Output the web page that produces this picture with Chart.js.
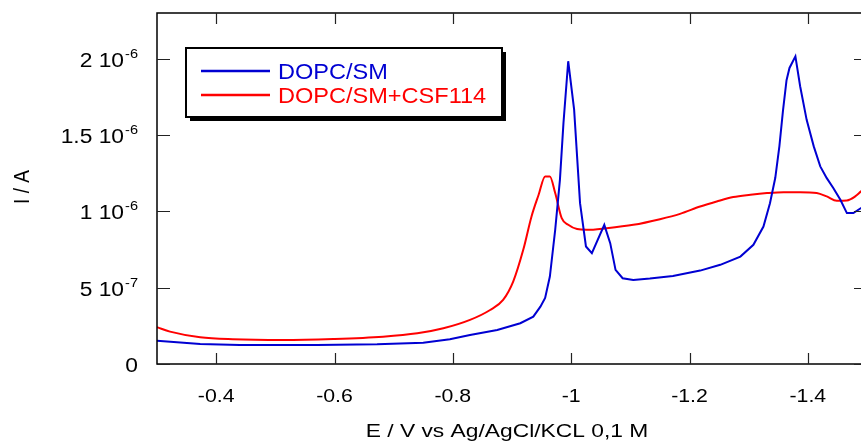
<!DOCTYPE html>
<html>
<head>
<meta charset="utf-8">
<script src="https://cdn.jsdelivr.net/npm/chart.js@4/dist/chart.umd.min.js"></script>
<style>
  html, body { margin: 0; padding: 0; background: #fff; }
  #wrap { width: 861px; height: 442px; overflow: hidden; position: relative; }
  #chart { position: absolute; left: 0; top: 0; }
</style>
</head>
<body>
<div id="wrap"><canvas id="chart" width="880" height="442"></canvas></div>
<script>
'use strict'

// E / V vs Ag/AgCl/KCL 0,1 M  and  I / A
var blueE = [-0.300, -0.373, -0.440, -0.570, -0.672, -0.750, -0.795, -0.829, -0.875, -0.914,
    -0.936, -0.948, -0.956, -0.964, -0.973, -0.981, -0.987, -0.995, -1.005, -1.015,
    -1.025, -1.035, -1.056, -1.066, -1.075, -1.087, -1.105, -1.133, -1.172, -1.218,
    -1.252, -1.286, -1.308, -1.325, -1.336, -1.345, -1.352, -1.358, -1.364, -1.369, -1.379,
    -1.387, -1.398, -1.410, -1.421, -1.432, -1.443, -1.455, -1.466, -1.477, -1.490, -1.500];
var blueI = [1.53e-7, 1.31e-7, 1.25e-7, 1.25e-7, 1.29e-7, 1.40e-7, 1.62e-7, 1.90e-7, 2.23e-7, 2.67e-7,
    3.10e-7, 3.76e-7, 4.33e-7, 5.73e-7, 8.79e-7, 12.07e-7, 15.8e-7, 19.84e-7, 16.67e-7, 10.54e-7,
    7.70e-7, 7.26e-7, 9.12e-7, 7.92e-7, 6.17e-7, 5.62e-7, 5.51e-7, 5.60e-7, 5.77e-7, 6.12e-7,
    6.50e-7, 7.04e-7, 7.81e-7, 9.01e-7, 10.54e-7, 12.2e-7, 14.3e-7, 16.6e-7, 18.6e-7, 19.4e-7, 20.16e-7,
    18.2e-7, 16.0e-7, 14.26e-7, 12.95e-7, 12.18e-7, 11.53e-7, 10.76e-7, 9.89e-7, 9.89e-7, 10.22e-7, 10.5e-7];

var redE = [-0.300, -0.322, -0.373, -0.428, -0.513, -0.598, -0.682, -0.740, -0.784, -0.829,
    -0.863, -0.885, -0.902, -0.919, -0.933, -0.945, -0.956, -0.964, -0.973, -0.984,
    -0.995, -1.010, -1.026, -1.060, -1.105, -1.150, -1.184, -1.218, -1.246, -1.274,
    -1.303, -1.331, -1.359, -1.387, -1.415, -1.432, -1.449, -1.466, -1.480, -1.490, -1.500];
var redI = [2.41e-7, 2.12e-7, 1.75e-7, 1.62e-7, 1.57e-7, 1.64e-7, 1.79e-7, 2.01e-7, 2.34e-7, 2.89e-7,
    3.54e-7, 4.20e-7, 5.40e-7, 7.48e-7, 9.67e-7, 11.09e-7, 12.29e-7, 12.29e-7, 11.2e-7, 9.56e-7,
    9.12e-7, 8.84e-7, 8.79e-7, 8.90e-7, 9.12e-7, 9.49e-7, 9.84e-7, 10.32e-7, 10.65e-7, 10.94e-7,
    11.09e-7, 11.20e-7, 11.26e-7, 11.26e-7, 11.20e-7, 10.98e-7, 10.70e-7, 10.72e-7, 10.98e-7, 11.31e-7, 11.6e-7];

var xTicks = [-0.4, -0.6, -0.8, -1, -1.2, -1.4];
var xTickLabels = ['-0.4', '-0.6', '-0.8', '-1', '-1.2', '-1.4'];
var yTicks = [0, 5e-7, 1e-6, 1.5e-6, 2e-6];
var yTickMain = ['0', '5 10', '1 10', '1.5 10', '2 10'];
var yTickExp = ['', '-7', '-6', '-6', '-6'];

var seriesNames = ['DOPC/SM', 'DOPC/SM+CSF114'];
var seriesColors = ['#0000d2', '#ff0000'];

function pairs(xs, ys) {
    return xs.map(function (x, i) { return { x: x, y: ys[i] }; });
}

function stretchText(ctx, text, x, y, align, font, sx) {
    ctx.save();
    ctx.font = font;
    var w = ctx.measureText(text).width * sx;
    var left = x;
    if (align === 'center') left = x - w / 2;
    if (align === 'right') left = x - w;
    ctx.translate(left, y);
    ctx.scale(sx, 1);
    ctx.textAlign = 'left';
    ctx.textBaseline = 'alphabetic';
    ctx.fillText(text, 0, 0);
    ctx.restore();
    return w;
}

var FONT = 'Liberation Sans, Arial, sans-serif';

var framePlugin = {
    id: 'frame',
    afterDraw: function (chart) {
        var ctx = chart.ctx;
        var a = chart.chartArea;
        var xs = chart.scales.x, ys = chart.scales.y;
        ctx.save();
        ctx.fillStyle = '#000';

        // frame
        ctx.strokeStyle = '#000';
        ctx.lineWidth = 1.5;
        ctx.strokeRect(a.left, a.top, a.right - a.left, a.bottom - a.top);

        // inward ticks
        ctx.lineWidth = 1.2;
        ctx.strokeStyle = '#222';
        ctx.beginPath();
        xTicks.forEach(function (v) {
            var px = Math.round(xs.getPixelForValue(v)) + 0.5;
            ctx.moveTo(px, a.bottom); ctx.lineTo(px, a.bottom - 11);
            ctx.moveTo(px, a.top); ctx.lineTo(px, a.top + 11);
        });
        yTicks.forEach(function (v) {
            var py = Math.round(ys.getPixelForValue(v)) + 0.5;
            ctx.moveTo(a.left, py); ctx.lineTo(a.left + 13, py);
            ctx.moveTo(a.right, py); ctx.lineTo(a.right - 13, py);
        });
        ctx.stroke();

        // x tick labels
        xTicks.forEach(function (v, i) {
            stretchText(ctx, xTickLabels[i], xs.getPixelForValue(v), 402, 'center', '19px ' + FONT, 1.12);
        });

        // y tick labels with exponent
        yTicks.forEach(function (v, i) {
            var py = ys.getPixelForValue(v);
            var right = 138;
            if (yTickExp[i]) {
                var we = stretchText(ctx, yTickExp[i], right, py - 1, 'right', '13px ' + FONT, 1.12);
                right -= we + 1;
            }
            stretchText(ctx, yTickMain[i], right, py + 8, 'right', '20px ' + FONT, 1.14);
        });

        // axis titles
        stretchText(ctx, 'E / V vs Ag/AgCl/KCL 0,1 M', 507, 437, 'center', '19px ' + FONT, 1.2);
        ctx.save();
        ctx.translate(29, 187);
        ctx.rotate(-Math.PI / 2);
        ctx.scale(1, 1.2);
        ctx.font = '19px ' + FONT;
        ctx.textAlign = 'center';
        ctx.textBaseline = 'alphabetic';
        ctx.fillText('I / A', 0, 0);
        ctx.restore();

        // legend box with shadow
        var bx = 186, by = 48, bw = 316, bh = 69;
        ctx.fillStyle = '#000';
        ctx.fillRect(bx + 4, by + 4, bw, bh);
        ctx.fillStyle = '#fff';
        ctx.fillRect(bx, by, bw, bh);
        ctx.strokeStyle = '#000';
        ctx.lineWidth = 2;
        ctx.strokeRect(bx, by, bw, bh);
        var rowsY = [71, 95];
        seriesNames.forEach(function (name, i) {
            ctx.strokeStyle = seriesColors[i];
            ctx.lineWidth = 2.5;
            ctx.beginPath();
            ctx.moveTo(201, rowsY[i]);
            ctx.lineTo(270, rowsY[i]);
            ctx.stroke();
            ctx.fillStyle = seriesColors[i];
            stretchText(ctx, name, 278, rowsY[i] + 8, 'left', '22px ' + FONT, 1.07);
        });
        ctx.restore();
    }
};

new Chart(document.getElementById('chart'), {
    type: 'line',
    data: {
        datasets: [
            {
                label: seriesNames[0],
                data: pairs(blueE, blueI),
                borderColor: seriesColors[0],
                borderWidth: 2,
                pointRadius: 0,
                tension: 0,
                fill: false
            },
            {
                label: seriesNames[1],
                data: pairs(redE, redI),
                borderColor: seriesColors[1],
                borderWidth: 2,
                pointRadius: 0,
                cubicInterpolationMode: 'monotone',
                fill: false
            }
        ]
    },
    options: {
        responsive: false,
        animation: false,
        events: [],
        layout: { padding: { left: 157, top: 13, right: 13, bottom: 78 } },
        plugins: { legend: { display: false }, tooltip: { enabled: false } },
        scales: {
            x: { type: 'linear', min: -1.5, max: -0.3, reverse: true, display: false },
            y: { type: 'linear', min: 0, max: 2.3e-6, display: false }
        }
    },
    plugins: [framePlugin]
});
</script>
</body>
</html>
